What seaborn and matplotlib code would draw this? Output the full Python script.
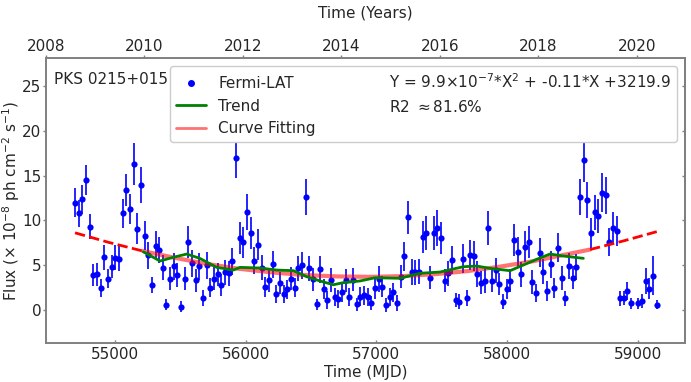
import matplotlib
matplotlib.use("Agg")
import matplotlib.pyplot as plt
import seaborn as sns
import pandas as pd
from matplotlib.lines import Line2D

# monthly (28 d) Fermi-LAT bins
mjd = [54694, 54722, 54750, 54778, 54806, 54834, 54862, 54890, 54918, 54946,
       54974, 55002, 55030, 55058, 55086, 55114, 55142, 55170, 55198, 55226,
       55254, 55282, 55310, 55338, 55366, 55394, 55422, 55450, 55478, 55506,
       55534, 55562, 55590, 55618, 55646, 55674, 55702, 55730, 55758, 55786,
       55814, 55842, 55870, 55898, 55926, 55954, 55982, 56010, 56038, 56066,
       56094, 56122, 56150, 56178, 56206, 56234, 56262, 56290, 56318, 56346,
       56374, 56402, 56430, 56458, 56486, 56514, 56542, 56570, 56598, 56626,
       56654, 56682, 56710, 56738, 56766, 56794, 56822, 56850, 56878, 56906,
       56934, 56962, 56990, 57018, 57046, 57074, 57102, 57130, 57158, 57186,
       57214, 57242, 57270, 57298, 57326, 57354, 57382, 57410, 57438, 57466,
       57494, 57522, 57550, 57578, 57606, 57634, 57662, 57690, 57718, 57746,
       57774, 57802, 57830, 57858, 57886, 57914, 57942, 57970, 57998, 58026,
       58054, 58082, 58110, 58138, 58166, 58194, 58222, 58250, 58278, 58306,
       58334, 58362, 58390, 58418, 58446, 58474, 58502, 58530, 58558, 58586,
       58614, 58642, 58670, 58698, 58726, 58754, 58782, 58810, 58838, 58866,
       58894, 58922, 58950, 59006, 59034, 59062, 59090, 59118, 59146]

flux = [12.0, 10.8, 12.35, 14.5, 9.3, 3.9, 4.0, 2.5, 5.9, 3.5,
        4.85, 5.85, 5.75, 10.8, 13.4, 11.3, 16.3, 9.1, 14.0, 8.3,
        6.1, 2.75, 7.2, 6.7, 4.7, 0.6, 3.5, 4.9, 3.9, 0.37,
        3.5, 7.6, 5.2, 3.3, 4.9, 1.3, 5.0, 2.5, 3.5, 4.0,
        2.8, 4.2, 4.1, 5.43, 17.0, 8.07, 7.55, 10.95, 8.56, 5.5,
        7.3, 4.7, 2.6, 3.3, 5.1, 1.75, 3.0, 1.75, 2.3, 3.5,
        2.5, 4.67, 4.98, 12.65, 4.65, 3.42, 0.62, 4.54, 2.31, 1.1,
        3.35, 1.4, 1.19, 1.97, 3.3, 1.4, 3.4, 0.62, 1.49, 1.62,
        1.45, 0.8, 2.4, 3.46, 2.6, 0.56, 1.49, 1.97, 0.75, 3.72,
        6.0, 10.34, 4.24, 4.2, 4.28, 8.15, 8.63, 3.61, 8.63, 9.19,
        8.04, 3.27, 4.09, 5.58, 1.12, 0.93, 5.73, 1.3, 6.14, 6.06,
        4.02, 3.05, 3.24, 9.19, 3.27, 4.46, 2.9, 0.93, 2.31, 3.27,
        7.78, 6.51, 3.98, 7.07, 7.59, 3.13, 1.86, 6.4, 4.28, 2.12,
        5.1, 2.49, 6.96, 3.57, 1.3, 4.91, 3.61, 4.8, 12.6, 16.8,
        12.3, 8.56, 10.9, 10.5, 13.1, 12.8, 7.6, 9.2, 8.85, 1.3,
        1.37, 2.12, 0.74, 0.74, 1.0, 3.24, 2.38, 3.83, 0.56]

flux_err = [1.6, 1.5, 1.6, 1.7, 1.4, 1.2, 1.3, 1.0, 1.4, 1.1,
            1.3, 1.4, 1.4, 1.6, 1.8, 1.7, 2.3, 1.7, 2.0, 1.6,
            1.5, 0.9, 1.6, 1.5, 1.4, 0.6, 1.3, 1.5, 1.3, 0.6,
            1.3, 1.8, 1.5, 1.3, 1.5, 0.9, 1.5, 1.1, 1.3, 1.3,
            1.2, 1.4, 1.4, 1.5, 2.3, 1.8, 1.7, 2.0, 1.8, 1.5,
            1.7, 1.4, 1.1, 1.3, 1.5, 1.0, 1.2, 1.0, 1.1, 1.3,
            1.1, 1.4, 1.5, 2.0, 1.4, 1.3, 0.6, 1.5, 1.1, 1.0,
            1.3, 1.0, 1.0, 1.1, 1.3, 1.0, 1.3, 0.7, 1.1, 1.1,
            1.0, 0.8, 1.2, 1.4, 1.2, 0.8, 1.0, 1.1, 0.9, 1.3,
            1.6, 1.8, 1.4, 1.4, 1.4, 1.8, 1.9, 1.3, 1.9, 2.0,
            1.8, 1.3, 1.4, 1.6, 0.8, 0.8, 1.6, 0.9, 1.7, 1.7,
            1.4, 1.3, 1.3, 1.9, 1.3, 1.4, 1.2, 0.8, 1.1, 1.3,
            1.8, 1.6, 1.4, 1.7, 1.8, 1.3, 1.0, 1.6, 1.4, 1.1,
            1.5, 1.1, 1.6, 1.3, 0.8, 1.5, 1.3, 1.5, 2.0, 2.5,
            2.0, 1.7, 2.0, 1.9, 2.2, 2.1, 1.6, 1.8, 1.7, 0.8,
            0.8, 1.0, 0.6, 0.6, 0.8, 1.4, 1.2, 2.2, 0.5]

# smoothed trend (green)
trend_mjd = [55217, 55344, 55450, 55549, 55650, 55778, 55905, 55957, 56110,
             56237, 56365, 56467, 56569, 56671, 56747, 56875, 56990, 57181,
             57334, 57487, 57665, 57767, 57870, 58023, 58125, 58227, 58329,
             58431, 58584]
trend_flux = [6.5, 5.47, 5.9, 6.25, 5.76, 4.76, 4.46, 4.76, 4.69,
              4.46, 4.39, 3.72, 3.24, 2.82, 3.05, 3.24, 3.6, 3.54,
              4.1, 4.24, 4.83, 4.91, 4.65, 4.39, 5.02, 5.66, 6.25,
              6.03, 5.77]

# quadratic fit: fitted range and extrapolated ends
fit_mjd = [55214, 55450, 55700, 55950, 56200, 56450, 56700, 56950, 57200,
           57450, 57700, 57950, 58200, 58450, 58635]
fit_flux = [6.58, 5.85, 5.15, 4.6, 4.2, 3.9, 3.75, 3.7, 3.78,
            4.0, 4.35, 4.85, 5.45, 6.2, 6.75]
ext_left_mjd = [54694, 54950, 55214]
ext_left_flux = [8.62, 7.56, 6.58]
ext_right_mjd = [58635, 58900, 59146]
ext_right_flux = [6.75, 7.75, 8.75]

year_ticks = [2008, 2010, 2012, 2014, 2016, 2018, 2020]
mjd_ticks = [55000, 56000, 57000, 58000, 59000]
flux_ticks = [0, 5, 10, 15, 20, 25]

fit_text = r"Y = 9.9$\times$10$^{-7}$*X$^{2}$ + -0.11*X +3219.9"
r2_text = r"R2 $\approx$81.6%"

sns.set_theme(style="ticks")
plt.rcParams["font.family"] = ["DejaVu Sans"]
plt.rcParams["mathtext.fontset"] = "dejavusans"

df = pd.DataFrame({"mjd": mjd, "flux": flux, "err": flux_err})
trend = pd.DataFrame({"mjd": trend_mjd, "flux": trend_flux})
fit = pd.DataFrame({"mjd": fit_mjd, "flux": fit_flux})
ext_l = pd.DataFrame({"mjd": ext_left_mjd, "flux": ext_left_flux})
ext_r = pd.DataFrame({"mjd": ext_right_mjd, "flux": ext_right_flux})

fig, ax = plt.subplots(figsize=(6.91, 3.82), dpi=100)
fig.subplots_adjust(left=0.0666, right=0.9913, bottom=0.103, top=0.847)

ax.errorbar(df["mjd"], df["flux"], yerr=df["err"], fmt="none",
            ecolor="blue", elinewidth=1.2, capsize=0, zorder=2)
sns.scatterplot(data=df, x="mjd", y="flux", color="blue", s=20,
                linewidth=0, ax=ax, zorder=3)

sns.lineplot(data=fit, x="mjd", y="flux", color="red", alpha=0.55,
             linewidth=3, ax=ax, zorder=4, estimator=None, sort=False)
sns.lineplot(data=ext_l, x="mjd", y="flux", color="red", linestyle="--",
             linewidth=2, ax=ax, zorder=4, estimator=None, sort=False)
sns.lineplot(data=ext_r, x="mjd", y="flux", color="red", linestyle="--",
             linewidth=2, ax=ax, zorder=4, estimator=None, sort=False)
sns.lineplot(data=trend, x="mjd", y="flux", color="green", linewidth=2,
             ax=ax, zorder=5, estimator=None, sort=False)

ax.set_xlim(54472, 59362)
ax.set_ylim(-3.65, 28.1)
ax.set_xticks(mjd_ticks)
ax.set_yticks(flux_ticks)
ax.set_xlabel("Time (MJD)", fontsize=11, labelpad=2)
ax.set_ylabel(r"Flux ($\times$ 10$^{-8}$ ph cm$^{-2}$ s$^{-1}$)", fontsize=11)
ax.yaxis.set_label_coords(-0.037, 0.5)
ax.tick_params(axis="x", direction="in", labelsize=11, color="gray",
               length=2.5, width=1, pad=3)
ax.tick_params(axis="y", direction="out", labelsize=11, color="gray",
               length=2.5, width=1, pad=1)
for sp in ax.spines.values():
    sp.set_color("gray")
    sp.set_linewidth(1.2)

# right side ticks pointing inward
ax_r = ax.secondary_yaxis("right")
ax_r.set_yticks(flux_ticks)
ax_r.tick_params(direction="in", labelright=False, color="gray",
                 length=2.5, width=1)
ax_r.spines["right"].set_color("gray")
ax_r.spines["right"].set_linewidth(1.2)

# top axis in years
ax2 = ax.twiny()
ax2.set_xlim(2008, 2020.98)
ax2.set_xticks(year_ticks)
ax2.set_xlabel("Time (Years)", fontsize=11, labelpad=15)
ax2.tick_params(axis="x", direction="out", labelsize=11, color="gray",
                length=2.5, width=1, pad=1)
for sp in ax2.spines.values():
    sp.set_color("gray")
    sp.set_linewidth(1.2)

ax.text(0.013, 0.926, "PKS 0215+015", transform=ax.transAxes,
        fontsize=11, va="center", ha="left")

blank = Line2D([], [], linestyle="none", marker=None)
handles = [
    Line2D([], [], linestyle="none", marker="o", color="blue", markersize=4),
    Line2D([], [], color="green", linewidth=2),
    Line2D([], [], color="red", alpha=0.55, linewidth=2),
    blank, blank,
]
labels = ["Fermi-LAT", "Trend", "Curve Fitting", fit_text, r2_text]
leg = ax.legend(handles, labels, ncol=2, loc="upper right", fontsize=11,
                frameon=True, framealpha=1)
leg.set_zorder(10)

fig.savefig("out.png", dpi=100)
